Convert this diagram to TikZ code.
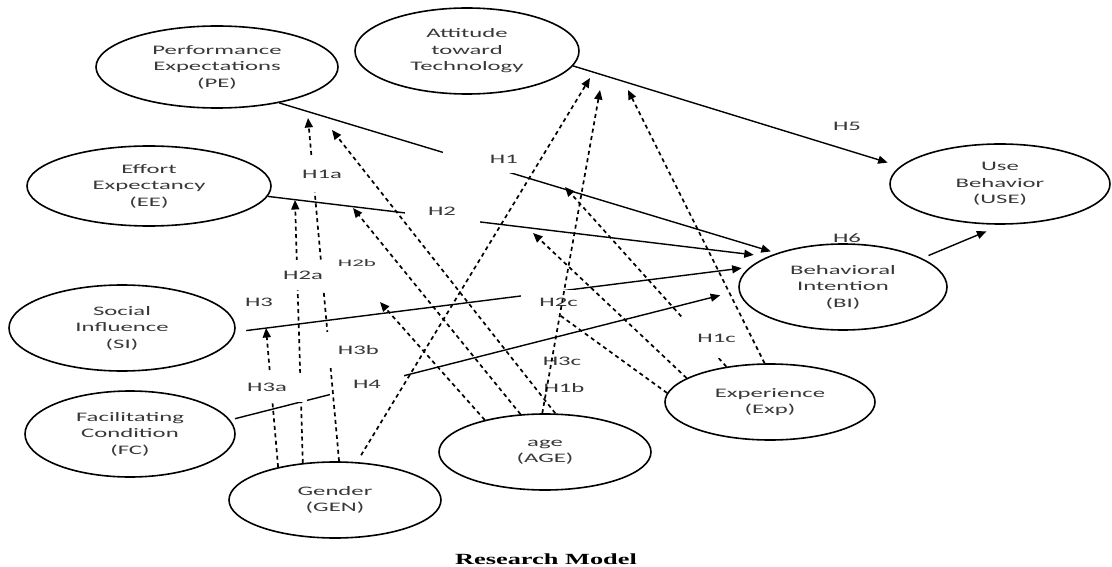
\documentclass[tikz,border=0pt]{standalone}
\usepackage{fontspec}
\newfontfamily\modelfont[FakeStretch=1.9]{Carlito}
\newfontfamily\squatfont[FakeStretch=2.3]{Carlito}
\newfontfamily\titlefont[FakeStretch=1.7]{Liberation Serif}
\usepackage{tikz}
\usetikzlibrary{shapes.geometric,arrows.meta}

\begin{document}
\begin{tikzpicture}[x=1pt, y=-1pt, font=\modelfont\fontsize{13}{16.5}\selectfont,
  construct/.style={draw, ellipse, line width=1.6pt, inner sep=0pt, align=center, text=black!78},
  hyp/.style={text=black!78, fill=white, inner sep=1pt},
  direct/.style={->, >={Triangle[length=9.5pt,width=8pt]}, line width=1.4pt},
  moderate/.style={direct, dash pattern=on 4pt off 3.5pt, line width=1.7pt},
]
\useasboundingbox (0,0) rectangle (1112,567);

\node[construct, minimum width=242pt, minimum height=82pt] (pe) at (217,67) {Performance\\Expectations\\(PE)};
\node[construct, minimum width=224pt, minimum height=86pt] (att) at (467,51) {Attitude\\toward\\Technology};
\node[construct, minimum width=244pt, minimum height=80pt] (ee) at (149,186) {Effort\\Expectancy\\(EE)};
\node[construct, minimum width=220pt, minimum height=80pt] (use) at (1000,184) {Use\\Behavior\\(USE)};
\node[construct, minimum width=208pt, minimum height=86pt] (bi) at (843,287) {Behavioral\\Intention\\(BI)};
\node[construct, minimum width=226pt, minimum height=86pt] (si) at (122,328) {Social\\Influence\\(SI)};
\node[construct, minimum width=210pt, minimum height=86pt] (fc) at (130,434) {Facilitating\\Condition\\(FC)};
\node[construct, minimum width=212pt, minimum height=76pt] (gen) at (335,500) {Gender\\(GEN)};
\node[construct, minimum width=212pt, minimum height=76pt] (age) at (545,452) {age\\(AGE)};
\node[construct, minimum width=210pt, minimum height=76pt] (exp) at (770,402) {Experience\\(Exp)};

\coordinate (m1a) at (308,118);
\coordinate (m2a) at (295,200);
\coordinate (m3a) at (266,328);
\coordinate (m1b) at (332,130);
\coordinate (m2b) at (353,208);
\coordinate (m3b) at (380,302);
\coordinate (m1c) at (565,187);
\coordinate (m2c) at (533,233);
\coordinate (m3c) at (543,303);
\coordinate (m5a) at (590,78);
\coordinate (m5b) at (600,90);
\coordinate (m5c) at (628,90);

\draw[direct, shorten >=6pt] (pe.-30) -- (bi.153);
\draw[direct, shorten >=14pt] (ee.-5) -- (bi.158);
\draw[direct, shorten <=11pt, shorten >=8pt] (si.-2) -- (bi.168);
\draw[direct, shorten <=5pt, shorten >=19pt] (fc.8) -- (bi.182);
\draw[direct, shorten >=13pt] (att.-8.5) -- (use.170);
\draw[direct, shorten <=7pt, shorten >=17pt] (bi.20) -- (use.-87);

\node[hyp, anchor=east, align=right, text width=63pt, inner xsep=12pt, minimum height=28pt] (h1) at (530,159) {H1};
\node[hyp, minimum width=75pt, minimum height=26pt] (h2) at (442,211) {H2};
\node[hyp, minimum width=74pt, minimum height=30pt] (h4) at (367,384) {H4};

\draw[moderate] (gen.150.5) -- (m3a);
\draw[moderate] (gen.131) -- (m2a);
\draw[moderate] (gen.84) -- (m1a);
\draw[moderate, shorten <=8pt] (gen.60) -- (m5a);

\node[hyp, minimum width=39pt, minimum height=35pt] (h1a) at (322,174.5) {H1a};
\node[hyp, anchor=west, align=left, text width=44pt, inner xsep=2pt, minimum height=30pt] (h2a) at (281,275) {H2a};
\node[hyp, anchor=west, align=left, text width=58pt, inner xsep=2pt, minimum height=29pt] (h3a) at (245,387.5) {H3a};
\node[hyp, anchor=east, align=right, text width=57pt, inner xsep=2pt, minimum height=36pt] (h3b) at (381,350) {H3b};

\draw[moderate] (exp.141) -- (m1c);
\draw[moderate] (exp.164) -- (m2c);
\draw[moderate] (exp.175) -- (m3c);
\draw[moderate] (exp.98) -- (m5c);

\node[hyp, anchor=east, align=right, text width=55pt, inner xsep=2pt, minimum height=24pt] (h2c) at (580,302) {H2c};
\node[hyp, anchor=east, align=right, text width=52pt, inner xsep=1pt, minimum height=40pt] (h1c) at (737,338) {H1c};
\node[hyp] (h3c) at (562,361) {H3c};
\node[hyp] (h1b) at (564,388) {H1b};

\draw[moderate] (age.75) -- (m1b);
\draw[moderate] (age.123) -- (m2b);
\draw[moderate] (age.152) -- (m3b);
\draw[moderate] (age.94) -- (m5b);

\node[hyp] (h3) at (259,302) {H3};
\node[hyp, font=\squatfont\fontsize{10}{12}\selectfont] (h2b) at (357,263) {H2b};
\node[hyp] (h5) at (847,126) {H5};
\node[hyp] (h6) at (847,238) {H6};

\node[anchor=base, font=\titlefont\bfseries\fontsize{15.5}{18}\selectfont] (title) at (546,564) {Research Model};
\end{tikzpicture}
\end{document}
